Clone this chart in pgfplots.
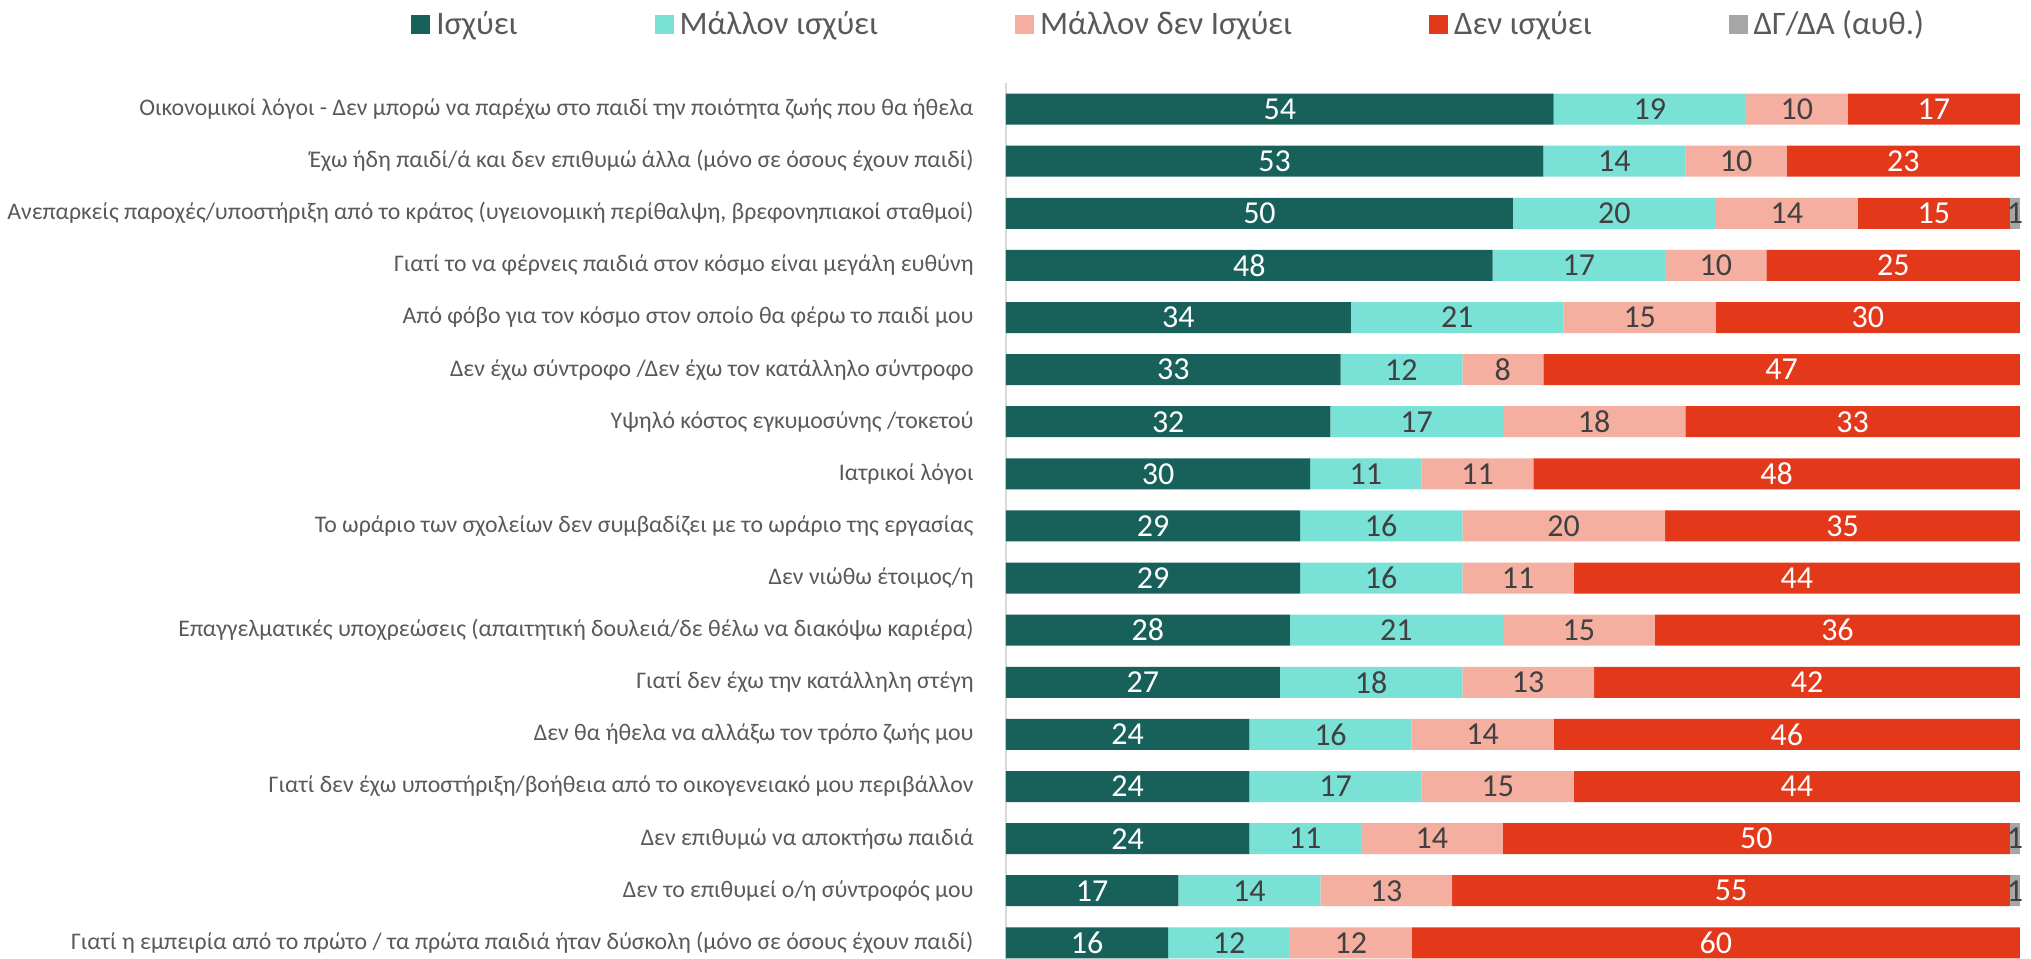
\documentclass[border=0pt]{standalone}
\usepackage{pgfplots}
\pgfplotsset{compat=1.18}
\usepackage{fontspec}
\setmainfont{Carlito}
\definecolor{c1}{HTML}{17615A}
\definecolor{c2}{HTML}{7AE1D7}
\definecolor{c3}{HTML}{F4AFA0}
\definecolor{c4}{HTML}{E3381A}
\definecolor{c5}{HTML}{A6A6A6}
\definecolor{labgrey}{HTML}{595959}
\definecolor{numgrey}{HTML}{404040}
\begin{document}
\begin{tikzpicture}
\begin{axis}[
  name=ax,
  scale only axis, width=507bp, height=438bp,
  xbar stacked, bar width=15.5bp,
  xmin=0, xmax=100,
  ymin=0.5, ymax=17.31, y dir=reverse,
  axis x line=none,
  axis y line*=left,
  y axis line style={color=black!15, line width=1bp},
  ytick={1,...,17},
  yticklabels={
    {Οικονομικοί λόγοι - Δεν μπορώ να παρέχω στο παιδί την ποιότητα ζωής που θα ήθελα},
    {Έχω ήδη παιδί/ά και δεν επιθυμώ άλλα (μόνο σε όσους έχουν παιδί)},
    {Ανεπαρκείς παροχές/υποστήριξη από το κράτος (υγειονομική περίθαλψη, βρεφονηπιακοί σταθμοί)},
    {Γιατί το να φέρνεις παιδιά στον κόσμο είναι μεγάλη ευθύνη},
    {Από φόβο για τον κόσμο στον οποίο θα φέρω το παιδί μου},
    {Δεν έχω σύντροφο /Δεν έχω τον κατάλληλο σύντροφο},
    {Υψηλό κόστος εγκυμοσύνης /τοκετού},
    {Ιατρικοί λόγοι},
    {Το ωράριο των σχολείων δεν συμβαδίζει με το ωράριο της εργασίας},
    {Δεν νιώθω έτοιμος/η},
    {Επαγγελματικές υποχρεώσεις (απαιτητική δουλειά/δε θέλω να διακόψω καριέρα)},
    {Γιατί δεν έχω την κατάλληλη στέγη},
    {Δεν θα ήθελα να αλλάξω τον τρόπο ζωής μου},
    {Γιατί δεν έχω υποστήριξη/βοήθεια από το οικογενειακό μου περιβάλλον},
    {Δεν επιθυμώ να αποκτήσω παιδιά\ },
    {Δεν το επιθυμεί ο/η σύντροφός μου},
    {Γιατί η εμπειρία από το πρώτο / τα πρώτα παιδιά ήταν δύσκολη (μόνο σε όσους έχουν παιδί)}
  },
  major tick length=0pt,
  yticklabel style={font=\fontsize{11.9bp}{13.5bp}\selectfont, text=labgrey, inner sep=0pt},
  yticklabel shift=16bp,
  point meta=explicit symbolic,
  nodes near coords,
  every node near coord/.append style={font=\fontsize{16bp}{18bp}\selectfont, text=numgrey},
  legend columns=5,
  legend image code/.code={\fill[#1,draw=none] (0bp,-4.75bp) rectangle (9.5bp,4.75bp); \path (11bp,0bp);},
  legend style={draw=none, fill=none, at={(0,1)}, anchor=west, xshift=-297.5bp, yshift=29.5bp,
    inner sep=0pt, font=\fontsize{16.4bp}{18bp}\selectfont, text=labgrey,
    nodes={inner sep=1.5bp},
    /tikz/every even column/.append style={column sep=67bp}},
]
\addplot[fill=c1, draw=none, every node near coord/.append style={text=white}] coordinates {
 (54,1)[54] (53,2)[53] (50,3)[50] (48,4)[48] (34,5)[34] (33,6)[33] (32,7)[32] (30,8)[30]
 (29,9)[29] (29,10)[29] (28,11)[28] (27,12)[27] (24,13)[24] (24,14)[24] (24,15)[24] (17,16)[17] (16,17)[16]};
\addplot[fill=c2, draw=none] coordinates {
 (19,1)[19] (14,2)[14] (20,3)[20] (17,4)[17] (21,5)[21] (12,6)[12] (17,7)[17] (11,8)[11]
 (16,9)[16] (16,10)[16] (21,11)[21] (18,12)[18] (16,13)[16] (17,14)[17] (11,15)[11] (14,16)[14] (12,17)[12]};
\addplot[fill=c3, draw=none] coordinates {
 (10,1)[10] (10,2)[10] (14,3)[14] (10,4)[10] (15,5)[15] (8,6)[8] (18,7)[18] (11,8)[11]
 (20,9)[20] (11,10)[11] (15,11)[15] (13,12)[13] (14,13)[14] (15,14)[15] (14,15)[14] (13,16)[13] (12,17)[12]};
\addplot[fill=c4, draw=none, every node near coord/.append style={text=white}] coordinates {
 (17,1)[17] (23,2)[23] (15,3)[15] (25,4)[25] (30,5)[30] (47,6)[47] (33,7)[33] (48,8)[48]
 (35,9)[35] (44,10)[44] (36,11)[36] (42,12)[42] (46,13)[46] (44,14)[44] (50,15)[50] (55,16)[55] (60,17)[60]};
\addplot[fill=c5, draw=none] coordinates {
 (0,1)[] (0,2)[] (1,3)[1] (0,4)[] (0,5)[] (0,6)[] (0,7)[] (0,8)[]
 (0,9)[] (0,10)[] (0,11)[] (0,12)[] (0,13)[] (0,14)[] (1,15)[1] (1,16)[1] (0,17)[]};
\legend{Ισχύει, Μάλλον ισχύει, Μάλλον δεν Ισχύει, Δεν ισχύει, ΔΓ/ΔΑ (αυθ.)}
\end{axis}
\pgfresetboundingbox
\path[use as bounding box] ([xshift=-503bp,yshift=41.5bp]ax.north west) rectangle ([xshift=5.5bp]ax.south east);
\end{tikzpicture}
\end{document}
